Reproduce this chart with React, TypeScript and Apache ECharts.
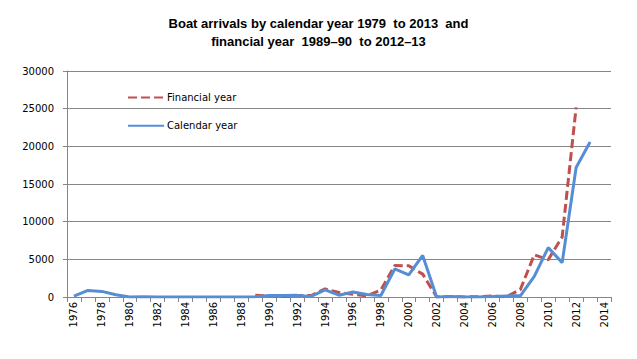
import React, { useEffect, useRef } from "react";
import * as echarts from "echarts";

const years: string[] = [];
for (let y = 1976; y <= 2014; y++) years.push(String(y));

// Calendar year arrivals (1976 .. 2013), null for 2014
const calendarYear: (number | null)[] = [
  111, 868, 746, 304, 0, 30, 0, 0, 0, 0, 0, 0, 0, 26, 198, 214, 216, 81, 953,
  237, 660, 339, 200, 3721, 2939, 5516, 1, 53, 15, 11, 60, 148, 161, 2726,
  6555, 4565, 17202, 20587, null,
];

// Financial year arrivals (1989–90 .. 2012–13), plotted at the first year
const financialYear: (number | null)[] = [
  null, null, null, null, null, null, null, null, null, null, null, null, null,
  224, 158, 78, 194, 194, 1071, 589, 365, 157, 921, 4175, 4137, 3039, 0, 82,
  0, 61, 133, 25, 985, 5609, 4940, 7983, 25173, null, null,
];

const titleText =
  "Boat arrivals by calendar year 1979  to 2013  and\nfinancial year  1989–90  to 2012–13";

export default function App() {
  const ref = useRef<HTMLDivElement>(null);
  useEffect(() => {
    document.body.style.margin = "0";
    const chart = echarts.init(ref.current!, null, { renderer: "svg" });
    const gray = "#868686";
    chart.setOption({
      animation: false,
      backgroundColor: "#ffffff",
      title: {
        text: titleText,
        left: "center",
        top: 9,
        textStyle: {
          fontFamily: "'Liberation Sans Narrow', 'Liberation Sans', Arial, sans-serif",
          fontWeight: "bold",
          fontSize: 13,
          lineHeight: 18,
          color: "#000000",
        },
      },
      legend: {
        orient: "vertical",
        left: 122,
        top: 87,
        itemWidth: 36,
        itemHeight: 14,
        itemGap: 17,
        data: ["Financial year", "Calendar year"],
        itemStyle: { opacity: 0 },
        textStyle: {
          fontFamily: "'DejaVu Sans', sans-serif",
          fontSize: 10,
          color: "#000000",
          padding: [0, 0, 0, -2],
        },
      },
      grid: { left: 67, right: 26, top: 71, bottom: 62, containLabel: false },
      xAxis: {
        type: "category",
        data: years,
        boundaryGap: true,
        axisLine: { show: true, lineStyle: { color: gray, width: 1 } },
        axisTick: { show: true, interval: 0, length: 5, lineStyle: { color: gray } },
        axisLabel: {
          interval: 1,
          rotate: 90,
          margin: 5,
          fontFamily: "'DejaVu Sans', sans-serif",
          fontSize: 10,
          color: "#000000",
        },
        splitLine: { show: false },
      },
      yAxis: {
        type: "value",
        min: 0,
        max: 30000,
        interval: 5000,
        axisLine: { show: true, lineStyle: { color: gray, width: 1 } },
        axisTick: { show: true, length: 4, lineStyle: { color: gray } },
        axisLabel: {
          margin: 13,
          formatter: (v: number) => String(v),
          fontFamily: "'DejaVu Sans', sans-serif",
          fontSize: 10,
          color: "#000000",
        },
        splitLine: { show: true, lineStyle: { color: gray, width: 1 } },
      },
      series: [
        {
          name: "Financial year",
          type: "line",
          data: financialYear,
          symbol: "none",
          connectNulls: false,
          itemStyle: { color: "#C0504D" },
          lineStyle: { color: "#C0504D", width: 3, type: [9, 4] },
        },
        {
          name: "Calendar year",
          type: "line",
          data: calendarYear,
          symbol: "none",
          connectNulls: false,
          itemStyle: { color: "#558ED5" },
          lineStyle: { color: "#558ED5", width: 3 },
        },
      ],
    });
    return () => chart.dispose();
  }, []);
  return <div ref={ref} style={{ width: 637, height: 359 }} />;
}
